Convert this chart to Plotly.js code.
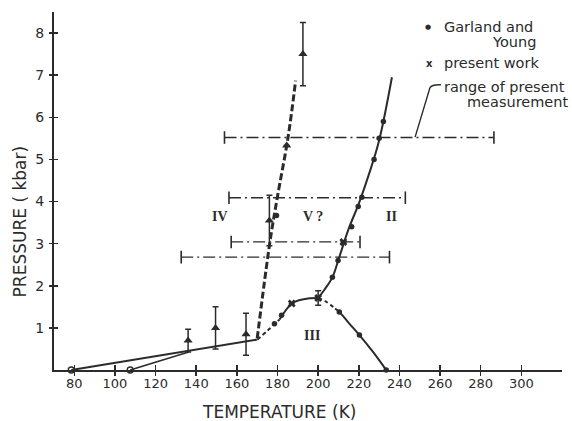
<!DOCTYPE html>
<html>
<head>
<meta charset="utf-8">
<script src="https://cdn.plot.ly/plotly-3.0.1.min.js"></script>
<style>html,body{margin:0;padding:0;background:#fff;}#chart{width:572px;height:421px;}</style>
</head>
<body>
<div id="chart"></div>
<script>
// ---- data ----
const lowLineT = [78.5, 169.8];
const lowLineP = [0, 0.72];
const branchT = [107.5, 136.3];
const branchP = [0, 0.43];
const openT = [78.5, 107.5];
const openP = [0, 0];

const boundIVT = [170, 176.2, 179.8, 185.2, 188.9];
const boundIVP = [0.75, 3.02, 4.07, 5.53, 6.87];

const triT = [136, 149.5, 164.5, 176, 184.5, 192.5];
const triP = [0.7, 1.0, 0.85, 3.55, 5.33, 7.5];
const triErr = [0.27, 0.5, 0.5, 0.6, null, 0.75];

const boundIIT = [200, 203, 207, 210, 215, 220, 225, 230, 236.3];
const boundIIP = [1.71, 1.9, 2.2, 2.62, 3.35, 3.95, 4.65, 5.45, 6.95];

const IIIdashLT = [170, 175, 181];
const IIIdashLP = [0.72, 0.93, 1.2];
const IIIsolidLT = [181, 187, 191, 195, 200];
const IIIsolidLP = [1.2, 1.58, 1.66, 1.7, 1.71];
const IIIdashRT = [200, 204, 208.3];
const IIIdashRP = [1.71, 1.62, 1.46];
const IIIsolidRT = [208.3, 210.4, 215, 220.3, 227, 233.5];
const IIIsolidRP = [1.46, 1.38, 1.12, 0.83, 0.43, 0];

const gyT = [178.5, 182, 179.5, 207, 209.8, 216.5, 219.7, 221.5, 227.5, 230, 232.1, 210.4, 220.3, 233.5];
const gyP = [1.1, 1.3, 3.67, 2.2, 2.6, 3.4, 3.88, 4.1, 5.0, 5.5, 5.9, 1.38, 0.83, 0];

const pwT = [187, 200, 212.4];
const pwP = [1.58, 1.71, 3.04];
const pwErr = [null, 0.17, null];

const rangeP = [5.52, 4.09, 3.04, 2.68];
const rangeLo = [153.9, 156.1, 157.2, 132.6];
const rangeHi = [286.5, 242.9, 220.6, 235.1];

const xTicks = [80, 100, 120, 140, 160, 180, 200, 220, 240, 260, 280, 300];
const yTicks = [1, 2, 3, 4, 5, 6, 7, 8];

// ---- drawing ----
const INK = '#2b2b2b';
const traces = [];
function line(x, y, opts) {
  traces.push(Object.assign({x: x, y: y, mode: 'lines', hoverinfo: 'skip', showlegend: false,
    line: {color: INK, width: 2}}, opts || {}));
}
line(lowLineT, lowLineP);
line(branchT, branchP, {line: {color: INK, width: 1.6}});
line(boundIVT, boundIVP, {line: {color: INK, width: 3, dash: '7px,3px', shape: 'spline'}});
line(boundIIT, boundIIP, {line: {color: INK, width: 2, shape: 'spline'}});
line(IIIdashLT, IIIdashLP, {line: {color: INK, width: 2, dash: '4px,3px', shape: 'spline'}});
line(IIIsolidLT, IIIsolidLP, {line: {color: INK, width: 2, shape: 'spline'}});
line(IIIdashRT, IIIdashRP, {line: {color: INK, width: 2, dash: '4px,3px', shape: 'spline'}});
line(IIIsolidRT, IIIsolidRP, {line: {color: INK, width: 2, shape: 'spline'}});

for (let i = 0; i < rangeP.length; i++) {
  traces.push({x: [rangeLo[i], rangeHi[i]], y: [rangeP[i], rangeP[i]], mode: 'lines+markers',
    hoverinfo: 'skip', showlegend: false,
    line: {color: INK, width: 1.3, dash: '12px,4px,2px,4px'},
    marker: {symbol: 'line-ns', size: 9, color: INK, line: {color: INK, width: 1.6}}});
}

traces.push({x: openT, y: openP, mode: 'markers', hoverinfo: 'skip', showlegend: false, cliponaxis: false,
  marker: {symbol: 'circle-open', size: 6, color: INK, line: {color: INK, width: 1.4}}});
traces.push({x: triT, y: triP, mode: 'markers', hoverinfo: 'skip', showlegend: false,
  marker: {symbol: 'triangle-up', size: 8, color: INK},
  error_y: {type: 'data', array: triErr, width: 3, thickness: 1.5, color: INK}});
traces.push({x: gyT, y: gyP, mode: 'markers', hoverinfo: 'skip', showlegend: false, cliponaxis: false,
  marker: {symbol: 'circle', size: 5.5, color: INK}});
traces.push({x: pwT, y: pwP, mode: 'markers', hoverinfo: 'skip', showlegend: false,
  marker: {symbol: 'x', size: 7, color: INK},
  error_y: {type: 'data', array: pwErr, width: 3, thickness: 1.5, color: INK}});
// helper trace so the overlay axes (crossing ticks) are drawn
traces.push({x: [100], y: [1], xaxis: 'x2', yaxis: 'y2', mode: 'markers', hoverinfo: 'skip',
  showlegend: false, marker: {opacity: 0}});

const FONT = 'DejaVu Sans, Verdana, sans-serif';
const axisCommon = {showgrid: false, zeroline: false, fixedrange: true};
const layout = {
  width: 572, height: 421,
  margin: {l: 54, r: 10, t: 12, b: 51},
  paper_bgcolor: '#ffffff', plot_bgcolor: '#ffffff',
  showlegend: false, hovermode: false,
  font: {family: FONT, color: INK},
  xaxis: Object.assign({}, axisCommon, {range: [70, 320], tickvals: xTicks, ticks: 'inside', ticklen: 5,
    tickwidth: 1.5, tickcolor: INK, showline: true, linewidth: 2, linecolor: INK, ticklabelstandoff: 0,
    tickfont: {family: FONT, size: 13, color: INK}}),
  yaxis: Object.assign({}, axisCommon, {range: [0, 8.5], tickvals: yTicks, ticks: 'inside', ticklen: 4,
    tickwidth: 1.5, tickcolor: INK, showline: true, linewidth: 2, linecolor: INK, ticklabelstandoff: 5,
    tickfont: {family: FONT, size: 14, color: INK}}),
  xaxis2: Object.assign({}, axisCommon, {range: [70, 320], tickvals: xTicks, ticks: 'outside', ticklen: 5,
    tickwidth: 1.5, tickcolor: INK, overlaying: 'x', anchor: 'y', showticklabels: false, showline: false}),
  yaxis2: Object.assign({}, axisCommon, {range: [0, 8.5], tickvals: yTicks, ticks: 'outside', ticklen: 4,
    tickwidth: 1.5, tickcolor: INK, overlaying: 'y', anchor: 'x', showticklabels: false, showline: false}),
  shapes: [
    {type: 'path', xref: 'x', yref: 'y', path: 'M 247.7,5.53 L 255.0,6.70 Q 256.0,6.78 260.5,6.77',
      line: {color: INK, width: 1.4}}
  ],
  annotations: [
    {xref: 'paper', yref: 'paper', x: 0.443, y: -0.1165, xanchor: 'center', yanchor: 'middle',
      text: 'TEMPERATURE (K)', showarrow: false, font: {family: FONT, size: 17, color: INK}},
    {xref: 'paper', yref: 'paper', x: -0.067, y: 0.415, xanchor: 'center', yanchor: 'middle',
      text: 'PRESSURE ( kbar)', textangle: -90, showarrow: false, font: {family: FONT, size: 17, color: INK}},
    {x: 151.7, y: 3.64, text: '<b>IV</b>', showarrow: false, font: {family: 'Liberation Serif, serif', size: 14, color: INK}},
    {x: 197.6, y: 3.64, text: '<b>V ?</b>', showarrow: false, font: {family: 'Liberation Serif, serif', size: 14, color: INK}},
    {x: 236.2, y: 3.64, text: '<b>II</b>', showarrow: false, font: {family: 'Liberation Serif, serif', size: 14, color: INK}},
    {x: 196.8, y: 0.83, text: '<b>III</b>', showarrow: false, font: {family: 'Liberation Serif, serif', size: 14, color: INK}},
    {x: 254.1, y: 8.15, text: '●', showarrow: false, font: {family: FONT, size: 7, color: INK}},
    {x: 260.8, y: 8.15, xanchor: 'left', text: 'Garland and', showarrow: false, font: {family: FONT, size: 14.5, color: INK}},
    {x: 308.2, y: 7.79, xanchor: 'right', text: 'Young', showarrow: false, font: {family: FONT, size: 14.5, color: INK}},
    {x: 255.0, y: 7.28, text: '<b>x</b>', showarrow: false, font: {family: FONT, size: 10, color: INK}},
    {x: 260.8, y: 7.28, xanchor: 'left', text: 'present work', showarrow: false, font: {family: FONT, size: 14.5, color: INK}},
    {x: 260.8, y: 6.73, xanchor: 'left', text: 'range of present', showarrow: false, font: {family: FONT, size: 14.5, color: INK}},
    {xref: 'paper', yref: 'paper', x: 1.0157, y: 0.749, xanchor: 'right', yanchor: 'middle',
      text: 'measurement', showarrow: false, font: {family: FONT, size: 14.5, color: INK}}
  ]
};
Plotly.newPlot('chart', traces, layout, {displayModeBar: false, staticPlot: true});
</script>
</body>
</html>
